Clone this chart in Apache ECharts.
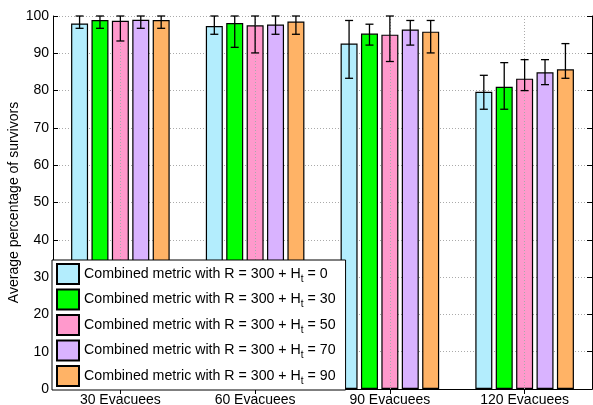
<!DOCTYPE html>
<html><head><meta charset="utf-8">
<script src="https://cdn.jsdelivr.net/npm/echarts@6/dist/echarts.min.js"></script>
<style>html,body{margin:0;padding:0;background:#fff}#c{width:593px;height:405px}</style>
</head><body><div id="c"></div>
<script>
const categories = ['30 Evacuees', '60 Evacuees', '90 Evacuees', '120 Evacuees'];
const seriesNames = [
  'Combined metric with R = 300 + Ht = 0',
  'Combined metric with R = 300 + Ht = 30',
  'Combined metric with R = 300 + Ht = 50',
  'Combined metric with R = 300 + Ht = 70',
  'Combined metric with R = 300 + Ht = 90'
];
const yTicks = [0, 10, 20, 30, 40, 50, 60, 70, 80, 90, 100];

const meanH0  = [98.0, 97.3, 92.6, 79.7];
const meanH30 = [98.9, 98.1, 95.3, 81.0];
const meanH50 = [98.7, 97.5, 95.0, 83.2];
const meanH70 = [99.0, 97.7, 96.4, 84.9];
const meanH90 = [98.9, 98.5, 95.8, 85.7];

const lowH0  = [96.7, 95.1, 83.3, 75.0];
const lowH30 = [96.7, 91.6, 92.2, 75.0];
const lowH50 = [93.3, 90.1, 87.8, 80.0];
const lowH70 = [96.7, 95.1, 92.2, 81.6];
const lowH90 = [96.7, 95.1, 90.1, 83.3];

const highH0  = [100, 100, 98.8, 84.1];
const highH30 = [100, 100, 97.8, 87.5];
const highH50 = [100, 100, 100, 88.3];
const highH70 = [100, 100, 98.8, 88.3];
const highH90 = [100, 100, 98.8, 92.6];

const means = [meanH0, meanH30, meanH50, meanH70, meanH90];
const lows = [lowH0, lowH30, lowH50, lowH70, lowH90];
const highs = [highH0, highH30, highH50, highH70, highH90];
const colors = ['#b3edfd', '#00ff00', '#ff99cc', '#d9b3ff', '#ffb366'];

const FONT = "'Liberation Sans', Arial, sans-serif";
const BAR_W = 17;
const GAP = 3.4;
const PITCH = BAR_W + GAP;

const chart = echarts.init(document.getElementById('c'));

const barSeries = seriesNames.map((name, i) => ({
  name: name,
  type: 'bar',
  xAxisIndex: 0, yAxisIndex: 0,
  barWidth: BAR_W,
  barGap: (GAP / BAR_W * 100) + '%',
  z: 2,
  itemStyle: { color: colors[i], borderColor: '#000', borderWidth: 1.2 },
  data: means[i],
  animation: false
}));

const errSeries = seriesNames.map((name, i) => ({
  type: 'custom',
  name: 'err' + i,
  xAxisIndex: 0, yAxisIndex: 0,
  z: 5,
  clip: false,
  silent: true,
  encode: { x: 0, y: [1, 2] },
  data: categories.map((c, k) => [k, lows[i][k], highs[i][k]]),
  renderItem: function (params, api) {
    const k = api.value(0);
    const lo = api.coord([k, api.value(1)]);
    const hi = api.coord([k, api.value(2)]);
    const x = lo[0] + (i - 2) * PITCH;
    const cw = 4;
    const st = { stroke: '#000', lineWidth: 1.3 };
    return {
      type: 'group',
      children: [
        { type: 'line', shape: { x1: x, y1: lo[1], x2: x, y2: hi[1] }, style: st },
        { type: 'line', shape: { x1: x - cw, y1: lo[1], x2: x + cw, y2: lo[1] }, style: st },
        { type: 'line', shape: { x1: x - cw, y1: hi[1], x2: x + cw, y2: hi[1] }, style: st }
      ]
    };
  },
  animation: false
}));

const gridLineSeries = {
  type: 'line',
  name: 'vgrid',
  xAxisIndex: 0, yAxisIndex: 0,
  z: 1,
  data: [],
  silent: true,
  markLine: {
    silent: true,
    symbol: ['none', 'none'],
    label: { show: false },
    lineStyle: { color: '#aaa', type: [1, 2], width: 1 },
    data: categories.map(c => ({ xAxis: c }))
  },
  animation: false
};

chart.setOption({
  animation: false,
  backgroundColor: '#fff',
  textStyle: { fontFamily: FONT },
  grid: { left: 53, right: 1, top: 16, bottom: 16, containLabel: false, outerBoundsMode: 'none' },
  legend: {
    data: seriesNames,
    orient: 'vertical',
    left: 52, top: 260,
    padding: [3, 10, 3, 4],
    itemGap: 3.5,
    itemWidth: 22,
    itemHeight: 20,
    itemTextGap: 3,
    icon: 'rect',
    backgroundColor: '#fff',
    borderColor: '#000',
    borderWidth: 1,
    borderRadius: 0,
    z: 10,
    selectedMode: false,
    formatter: function (name) {
      return '{a|' + name.replace('Ht', 'H}{s|t}{a|') + '}';
    },
    textStyle: {
      rich: {
        a: { fontSize: 14.2, fontFamily: FONT, color: '#000', lineHeight: 20 },
        s: { fontSize: 10, fontFamily: FONT, color: '#000', lineHeight: 8, verticalAlign: 'bottom' }
      }
    }
  },
  xAxis: [
    {
      type: 'category', data: categories, position: 'bottom',
      axisLine: { show: true, lineStyle: { color: '#000', width: 1 } },
      axisTick: { show: true, inside: true, alignWithLabel: true, length: 5, lineStyle: { color: '#000' } },
      axisLabel: { color: '#000', fontSize: 14, fontFamily: FONT, margin: 4 },
      splitLine: { show: false }
    },
    {
      type: 'category', data: categories, position: 'top',
      axisLine: { show: true, lineStyle: { color: '#000', width: 1 } },
      axisTick: { show: true, inside: true, alignWithLabel: true, length: 5, lineStyle: { color: '#000' } },
      axisLabel: { show: false },
      splitLine: { show: false }
    }
  ],
  yAxis: [
    {
      type: 'value', min: 0, max: 100, interval: 10, position: 'left',
      name: 'Average percentage of survivors',
      nameLocation: 'middle', nameRotate: 90, nameGap: 32,
      nameMoveOverlap: false,
      nameTextStyle: { color: '#000', fontSize: 14, fontFamily: FONT },
      axisLine: { show: true, lineStyle: { color: '#000', width: 1 } },
      axisTick: { show: true, inside: true, length: 5, lineStyle: { color: '#000' } },
      axisLabel: { color: '#000', fontSize: 14, fontFamily: FONT, margin: 4 },
      splitLine: { show: true, lineStyle: { color: '#aaa', type: [1, 2], width: 1 } }
    },
    {
      type: 'value', min: 0, max: 100, interval: 10, position: 'right',
      axisLine: { show: true, lineStyle: { color: '#000', width: 1 } },
      axisTick: { show: true, inside: true, length: 5, lineStyle: { color: '#000' } },
      axisLabel: { show: false },
      splitLine: { show: false }
    }
  ],
  series: [gridLineSeries].concat(barSeries, errSeries)
});
</script>
</body></html>
